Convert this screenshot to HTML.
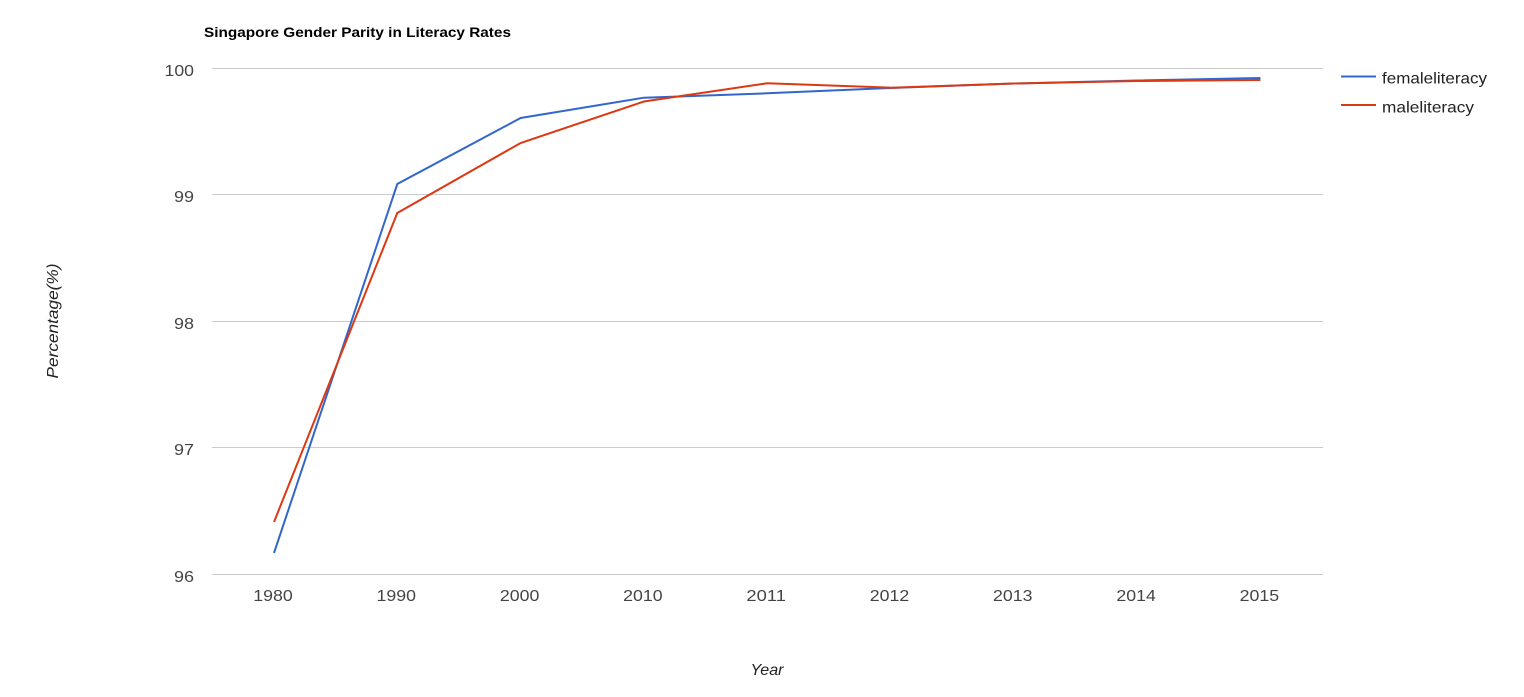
<!DOCTYPE html>
<html><head><meta charset="utf-8"><style>
html,body{margin:0;padding:0;background:#fff;}
svg{display:block;}
text{font-family:"Liberation Sans",Arial,sans-serif;}
</style></head><body>
<svg width="1524" height="697" viewBox="0 0 1524 697" xmlns="http://www.w3.org/2000/svg">
<rect width="1524" height="697" fill="#fff"/>
<text x="204" y="37" font-size="14" font-weight="bold" fill="#000" textLength="307" lengthAdjust="spacingAndGlyphs">Singapore Gender Parity in Literacy Rates</text>
<g stroke="#cccccc" stroke-width="1">
<line x1="212" y1="68.5" x2="1323" y2="68.5"/>
<line x1="212" y1="194.5" x2="1323" y2="194.5"/>
<line x1="212" y1="321.5" x2="1323" y2="321.5"/>
<line x1="212" y1="447.5" x2="1323" y2="447.5"/>
<line x1="212" y1="574.5" x2="1323" y2="574.5"/>
</g>
<g font-size="16" fill="#444" text-anchor="end" lengthAdjust="spacingAndGlyphs">
<text x="194" y="76" textLength="29.5" lengthAdjust="spacingAndGlyphs">100</text>
<text x="194" y="202" textLength="20" lengthAdjust="spacingAndGlyphs">99</text>
<text x="194" y="329" textLength="20" lengthAdjust="spacingAndGlyphs">98</text>
<text x="194" y="455" textLength="20" lengthAdjust="spacingAndGlyphs">97</text>
<text x="194" y="582" textLength="20" lengthAdjust="spacingAndGlyphs">96</text>
</g>
<g font-size="16" fill="#444" text-anchor="middle">
<text x="273" y="601" textLength="39.5" lengthAdjust="spacingAndGlyphs">1980</text>
<text x="396.3" y="601" textLength="39.5" lengthAdjust="spacingAndGlyphs">1990</text>
<text x="519.6" y="601" textLength="39.5" lengthAdjust="spacingAndGlyphs">2000</text>
<text x="642.9" y="601" textLength="39.5" lengthAdjust="spacingAndGlyphs">2010</text>
<text x="766.2" y="601" textLength="39.5" lengthAdjust="spacingAndGlyphs">2011</text>
<text x="889.5" y="601" textLength="39.5" lengthAdjust="spacingAndGlyphs">2012</text>
<text x="1012.8" y="601" textLength="39.5" lengthAdjust="spacingAndGlyphs">2013</text>
<text x="1136.1" y="601" textLength="39.5" lengthAdjust="spacingAndGlyphs">2014</text>
<text x="1259.4" y="601" textLength="39.5" lengthAdjust="spacingAndGlyphs">2015</text>
</g>
<text x="767" y="675" font-size="16" font-style="italic" fill="#222" text-anchor="middle" textLength="33" lengthAdjust="spacingAndGlyphs">Year</text>
<text transform="translate(58,321) rotate(-90)" font-size="16" font-style="italic" fill="#222" text-anchor="middle" textLength="115" lengthAdjust="spacingAndGlyphs">Percentage(%)</text>
<polyline fill="none" stroke="#3366cc" stroke-width="2" points="274,553 397.3,184 520.6,118 643.9,97.7 767.2,93.3 890.5,88 1013.8,83.5 1137.1,80.5 1260.4,78"/>
<polyline fill="none" stroke="#dc3912" stroke-width="2" points="274,522 397.3,213 520.6,143 643.9,101.5 767.2,83.3 890.5,87.7 1013.8,83.5 1137.1,81 1260.4,80"/>
<line x1="1341" y1="76.5" x2="1376" y2="76.5" stroke="#3366cc" stroke-width="2"/>
<text x="1382" y="83.5" font-size="16" fill="#222" textLength="105" lengthAdjust="spacingAndGlyphs">femaleliteracy</text>
<line x1="1341" y1="105" x2="1376" y2="105" stroke="#dc3912" stroke-width="2"/>
<text x="1382" y="112.5" font-size="16" fill="#222" textLength="92" lengthAdjust="spacingAndGlyphs">maleliteracy</text>
</svg>
</body></html>
